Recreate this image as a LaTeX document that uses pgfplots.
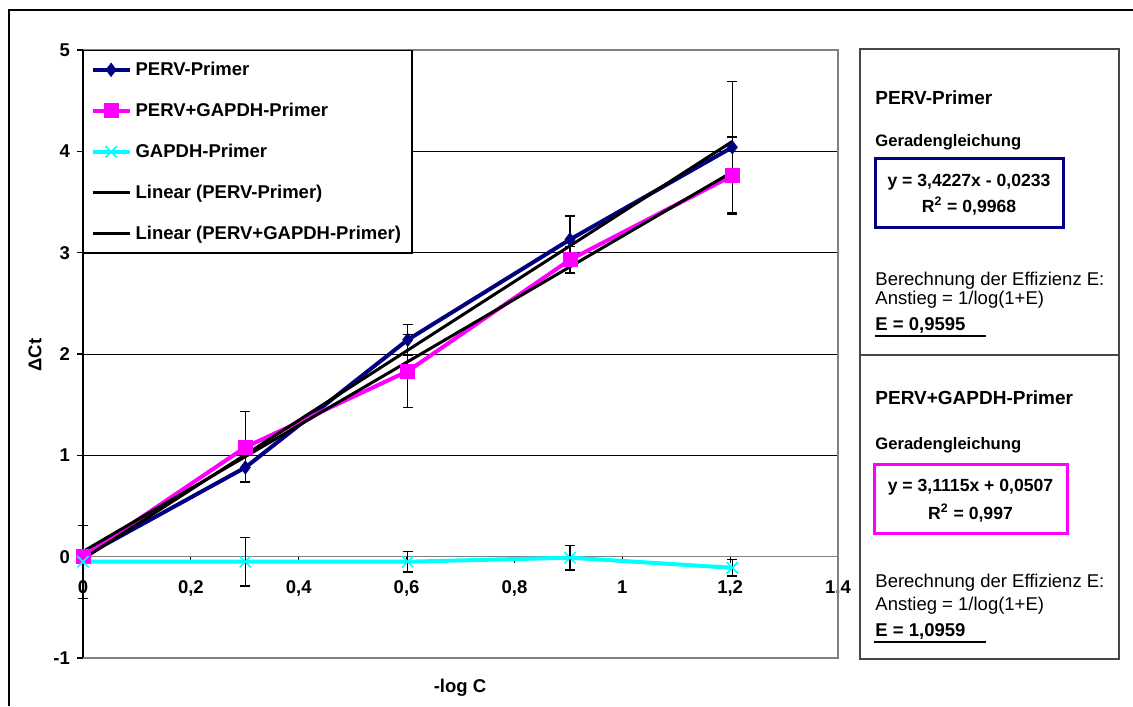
\documentclass[border=0pt]{standalone}
\usepackage{fontspec}
\setmainfont{Liberation Sans}
\usepackage{pgfplots}
\pgfplotsset{compat=1.18}
\definecolor{navyc}{RGB}{0,0,128}
\definecolor{pinkc}{RGB}{255,0,255}
\definecolor{cyanc}{RGB}{0,255,255}
\definecolor{framegray}{RGB}{128,128,128}
\definecolor{boxgray}{RGB}{70,70,70}
\newcommand{\fs}{\fontsize{9.25}{11}\selectfont}
\newcommand{\fsm}{\fontsize{8.3}{10}\selectfont}
\newcommand{\fse}{\fontsize{8.8}{10.5}\selectfont}
\begin{document}
\begin{tikzpicture}
\path[use as bounding box] (0,0) rectangle (566.5pt,353pt);
\draw[line width=1pt] (4.5pt,0) -- (4.5pt,348pt) -- (566.5pt,348pt);
\begin{axis}[
  at={(41.5pt,24pt)}, anchor=south west, scale only axis,
  width=377.5pt, height=304pt,
  xmin=0, xmax=1.4, ymin=-1, ymax=5,
  axis x line=middle, axis y line=left,
  x axis line style={-, draw=framegray, line width=0.8pt},
  y axis line style={-, draw=black, line width=0.8pt},
  xtick={0,0.2,0.4,0.6,0.8,1,1.2,1.4},
  xticklabels={0,{0,2},{0,4},{0,6},{0,8},1,{1,2},{1,4}},
  ytick={-1,0,1,2,3,4,5}, yticklabels={-1,0,1,2,3,4,5},
  hide obscured x ticks=false, hide obscured y ticks=false,
  tick align=outside, major tick length=3pt,
  tick style={black, line width=0.6pt},
  ymajorgrids, major grid style={black, line width=0.5pt},
  ticklabel style={font=\fs\bfseries},
  xticklabel style={yshift=-5.5pt},
  clip=false,
  legend image code/.code={\draw[mark repeat=2,mark phase=2] plot coordinates {(0pt,0pt) (9.25pt,0pt) (18.5pt,0pt)};},
  legend style={at={(0,1)}, anchor=north west, draw=black, line width=0.6pt, fill=white,
    font=\fs\bfseries, inner xsep=3.5pt, inner ysep=3.5pt, row sep=8.3pt,
    cells={anchor=west}},
  legend cell align=left,
]
\addplot[navyc, line width=2pt, mark=diamond*, mark size=3.3pt,
  mark options={solid, fill=navyc, draw=navyc, line width=0.4pt},
  error bars/.cd, y dir=both, y explicit,
  error bar style={black, line width=0.7pt},
  error mark options={black, rotate=90, mark size=2.5pt, line width=0.7pt}]
  coordinates {(0,0) +- (0,0) (0.301,0.88) +- (0,0.14) (0.602,2.14) +- (0,0.15) (0.903,3.13) +- (0,0.23) (1.204,4.04) +- (0,0.65)};
\addlegendentry{PERV-Primer}
\addplot[pinkc, line width=2pt, mark=square*, mark size=3.5pt,
  mark options={solid, fill=pinkc, draw=pinkc, line width=0.4pt},
  error bars/.cd, y dir=both, y explicit,
  error bar style={black, line width=0.7pt},
  error mark options={black, rotate=90, mark size=2.5pt, line width=0.7pt}]
  coordinates {(0,0) +- (0,0) (0.301,1.08) +- (0,0.35) (0.602,1.83) +- (0,0.36) (0.903,2.93) +- (0,0.13) (1.204,3.76) +- (0,0.38)};
\addlegendentry{PERV+GAPDH-Primer}
\addplot[cyanc, line width=2pt, mark=x, mark size=4pt,
  mark options={solid, draw=cyanc, line width=0.8pt},
  error bars/.cd, y dir=both, y explicit,
  error bar style={black, line width=0.7pt},
  error mark options={black, rotate=90, mark size=2.5pt, line width=0.7pt}]
  coordinates {(0,-0.05) +- (0,0.36) (0.301,-0.05) +- (0,0.24) (0.602,-0.05) +- (0,0.10) (0.903,-0.01) +- (0,0.12) (1.204,-0.11) +- (0,0.08)};
\addlegendentry{GAPDH-Primer}
\addplot[black, line width=1.5pt] coordinates {(0,-0.0233) (1.204,4.0976)};
\addlegendentry{Linear (PERV-Primer)}
\addplot[black, line width=1.5pt] coordinates {(0,0.0507) (1.204,3.7969)};
\addlegendentry{Linear (PERV+GAPDH-Primer)}
\draw[framegray, line width=0.8pt] (rel axis cs:0,0) -- (rel axis cs:1,0) -- (rel axis cs:1,1) -- (rel axis cs:0,1);
\end{axis}
% axis titles
\node[font=\fs\bfseries] at (230pt,9pt) {-log C};
\node[font=\fs\bfseries, rotate=90] at (17.5pt,175.5pt) {ΔCt};
% right panel
\draw[boxgray, line width=0.7pt] (430pt,23.5pt) rectangle (559.5pt,328.5pt);
\draw[boxgray, line width=0.7pt] (430pt,175.5pt) -- (559.5pt,175.5pt);
% top panel
\node[anchor=west, inner sep=0, font=\fontsize{9.5}{11}\selectfont\bfseries] at (437.5pt,304pt) {PERV-Primer};
\node[anchor=west, inner sep=0, font=\fsm\bfseries] at (437.5pt,282pt) {Geradengleichung};
\draw[navyc, line width=1.5pt] (437.5pt,239pt) rectangle (531.5pt,273.5pt);
\node[inner sep=0, font=\fse\bfseries] at (484.5pt,262pt) {y = 3,4227x - 0,0233};
\node[inner sep=0, font=\fse\bfseries] at (484.5pt,250pt) {R\textsuperscript{2} = 0,9968};
\node[anchor=west, inner sep=0, font=\fs] at (437.5pt,212.5pt) {Berechnung der Effizienz E:};
\node[anchor=west, inner sep=0, font=\fs] at (437.5pt,203pt) {Anstieg = 1/log(1+E)};
\node[anchor=west, inner sep=0, font=\fs\bfseries] at (437.5pt,190.5pt) {E = 0,9595};
\draw[line width=1pt] (437.5pt,185pt) -- (493pt,185pt);
% bottom panel
\node[anchor=west, inner sep=0, font=\fontsize{9.5}{11}\selectfont\bfseries] at (437.5pt,154pt) {PERV+GAPDH-Primer};
\node[anchor=west, inner sep=0, font=\fsm\bfseries] at (437.5pt,130.5pt) {Geradengleichung};
\draw[pinkc, line width=1.5pt] (437pt,86pt) rectangle (533.5pt,120.5pt);
\node[inner sep=0, font=\fse\bfseries] at (485.25pt,109.5pt) {y = 3,1115x + 0,0507};
\node[inner sep=0, font=\fse\bfseries] at (485.25pt,96.5pt) {R\textsuperscript{2} = 0,997};
\node[anchor=west, inner sep=0, font=\fs] at (437.5pt,61.5pt) {Berechnung der Effizienz E:};
\node[anchor=west, inner sep=0, font=\fs] at (437.5pt,50pt) {Anstieg = 1/log(1+E)};
\node[anchor=west, inner sep=0, font=\fs\bfseries] at (437.5pt,37.5pt) {E = 1,0959};
\draw[line width=1pt] (437pt,32pt) -- (493pt,32pt);
\end{tikzpicture}
\end{document}
